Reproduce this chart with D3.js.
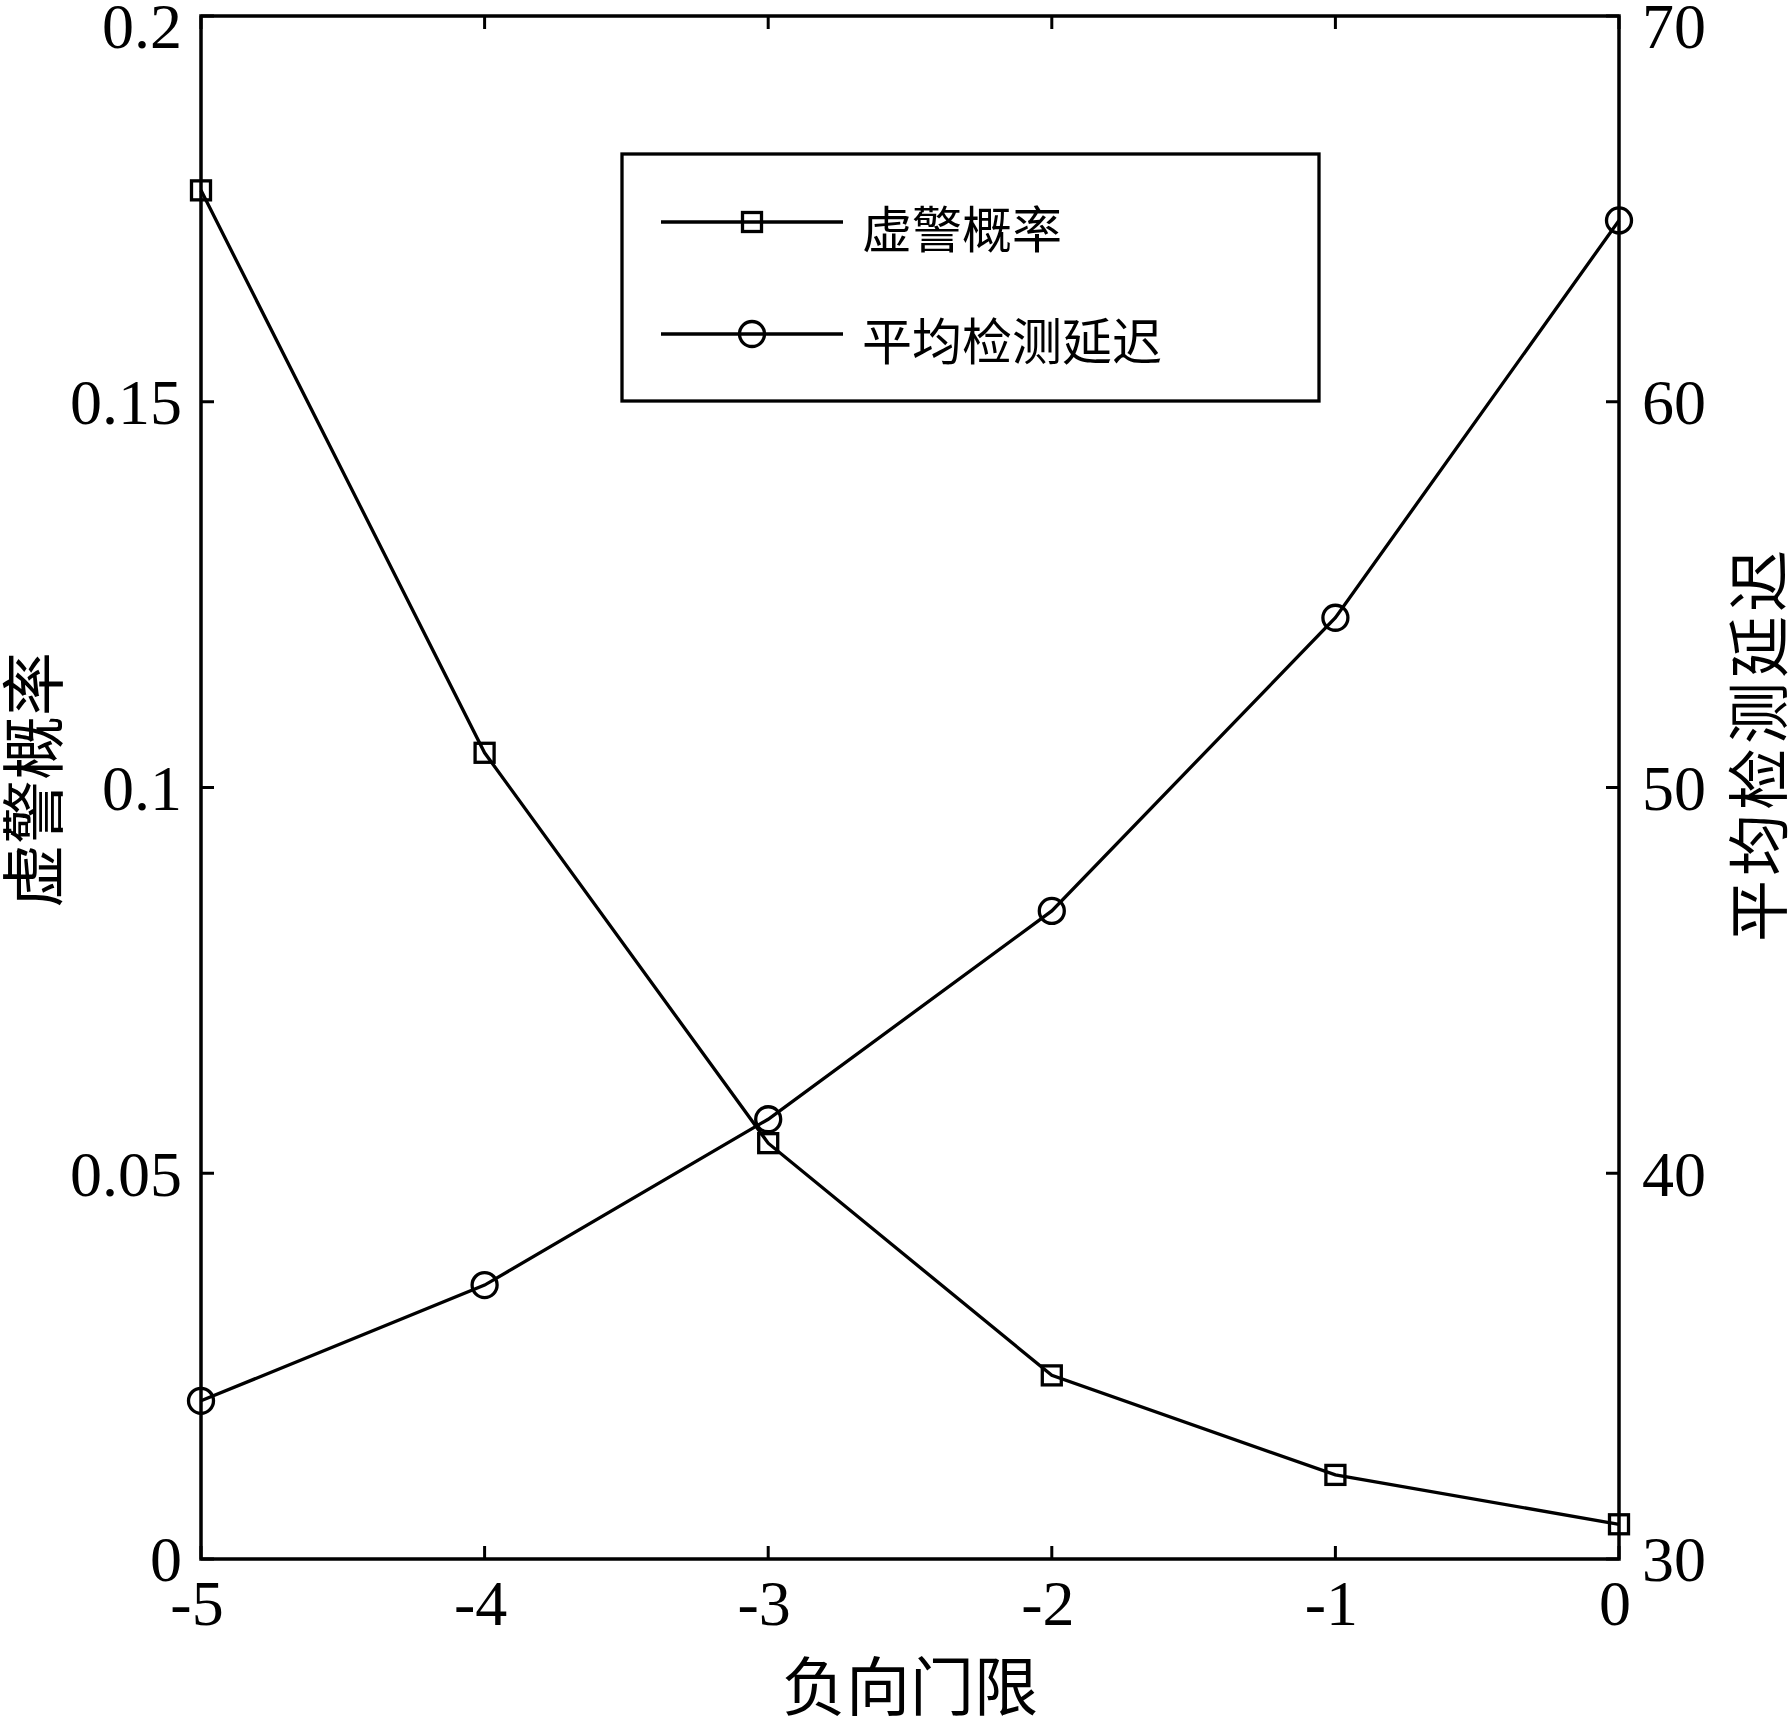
<!DOCTYPE html>
<html>
<head>
<meta charset="utf-8">
<script src="https://cdn.jsdelivr.net/npm/d3@7"></script>
<style>
  body { margin: 0; background: #fff; }
  svg { display: block; }
  .tick-label { font-family: "Liberation Serif", "Times New Roman", serif; font-size: 64px; fill: #000; }
  .cjk { font-family: "Noto Sans CJK SC", sans-serif; fill: #000; }
</style>
</head>
<body>
<svg width="1789" height="1720"></svg>
<script>
// data
const thresholds = [-5, -4, -3, -2, -1, 0];
const falseAlarm = [0.1774, 0.1045, 0.0539, 0.0238, 0.0109, 0.0045];
const avgDelay = [34.1, 37.1, 41.4, 46.8, 54.4, 64.7];

const xTicks = [-5, -4, -3, -2, -1, 0];
const yLeftTicks = [0, 0.05, 0.1, 0.15, 0.2];
const yRightTicks = [30, 40, 50, 60, 70];

const seriesNames = ["虚警概率", "平均检测延迟"];
const xLabel = "负向门限";

document.addEventListener("DOMContentLoaded", function () {
    const svg = d3.select("svg");
    const left = 201, right = 1619, top = 16, bottom = 1559;

    const x = d3.scaleLinear().domain([-5, 0]).range([left, right]);
    const yL = d3.scaleLinear().domain([0, 0.2]).range([bottom, top]);
    const yR = d3.scaleLinear().domain([30, 70]).range([bottom, top]);

    const tickLen = 13;
    const g = svg.append("g");

    // tick marks (inward)
    g.selectAll(".xt-b").data(xTicks).enter().append("line")
        .attr("x1", d => x(d)).attr("x2", d => x(d))
        .attr("y1", bottom).attr("y2", bottom - tickLen)
        .attr("stroke", "#000").attr("stroke-width", 3);
    g.selectAll(".xt-t").data(xTicks).enter().append("line")
        .attr("x1", d => x(d)).attr("x2", d => x(d))
        .attr("y1", top).attr("y2", top + tickLen)
        .attr("stroke", "#000").attr("stroke-width", 3);
    g.selectAll(".yl").data(yLeftTicks).enter().append("line")
        .attr("x1", left).attr("x2", left + tickLen)
        .attr("y1", d => yL(d)).attr("y2", d => yL(d))
        .attr("stroke", "#000").attr("stroke-width", 3);
    g.selectAll(".yr").data(yRightTicks).enter().append("line")
        .attr("x1", right).attr("x2", right - tickLen)
        .attr("y1", d => yR(d)).attr("y2", d => yR(d))
        .attr("stroke", "#000").attr("stroke-width", 3);

    // axes box
    g.append("rect")
        .attr("x", left).attr("y", top)
        .attr("width", right - left).attr("height", bottom - top)
        .attr("fill", "none").attr("stroke", "#000").attr("stroke-width", 3.5);

    // tick labels
    g.selectAll(".xl").data(xTicks).enter().append("text")
        .attr("class", "tick-label")
        .attr("x", d => x(d) - 4).attr("y", bottom + 44)
        .attr("dy", "0.35em")
        .attr("text-anchor", "middle")
        .text(d => String(d));
    g.selectAll(".yll").data(yLeftTicks).enter().append("text")
        .attr("class", "tick-label")
        .attr("x", left - 19)
        .attr("y", d => Math.max(yL(d), 26))
        .attr("dy", "0.35em")
        .attr("text-anchor", "end")
        .text(d => String(d));
    g.selectAll(".yrl").data(yRightTicks).enter().append("text")
        .attr("class", "tick-label")
        .attr("x", right + 23)
        .attr("y", d => Math.max(yR(d), 26))
        .attr("dy", "0.35em")
        .attr("text-anchor", "start")
        .text(d => String(d));

    // axis titles
    svg.append("text").attr("class", "cjk")
        .attr("transform", "translate(57,780) rotate(-90)")
        .attr("text-anchor", "middle")
        .style("font-size", "64px")
        .text(seriesNames[0]);
    svg.append("text").attr("class", "cjk")
        .attr("transform", "translate(1782,744) rotate(-90)")
        .attr("text-anchor", "middle")
        .style("font-size", "62px")
        .style("letter-spacing", "4px")
        .text(seriesNames[1]);
    svg.append("text").attr("class", "cjk")
        .attr("x", (left + right) / 2).attr("y", 1710)
        .attr("text-anchor", "middle")
        .style("font-size", "64px")
        .text(xLabel);

    // series lines
    const lineL = d3.line().x((d, i) => x(thresholds[i])).y(d => yL(d));
    const lineR = d3.line().x((d, i) => x(thresholds[i])).y(d => yR(d));

    g.append("path").attr("d", lineL(falseAlarm))
        .attr("fill", "none").attr("stroke", "#000").attr("stroke-width", 3.3);
    g.append("path").attr("d", lineR(avgDelay))
        .attr("fill", "none").attr("stroke", "#000").attr("stroke-width", 3.3);

    const sq = 19;
    g.selectAll(".sq").data(falseAlarm).enter().append("rect")
        .attr("x", (d, i) => x(thresholds[i]) - sq / 2)
        .attr("y", d => yL(d) - sq / 2)
        .attr("width", sq).attr("height", sq)
        .attr("fill", "none").attr("stroke", "#000").attr("stroke-width", 3.3);
    g.selectAll(".ci").data(avgDelay).enter().append("circle")
        .attr("cx", (d, i) => x(thresholds[i]))
        .attr("cy", d => yR(d))
        .attr("r", 12.5)
        .attr("fill", "none").attr("stroke", "#000").attr("stroke-width", 3.3);

    // legend
    const lg = svg.append("g");
    lg.append("rect")
        .attr("x", 622).attr("y", 154)
        .attr("width", 697).attr("height", 247)
        .attr("fill", "#fff").attr("stroke", "#000").attr("stroke-width", 3.3);
    const rows = [222, 334];
    rows.forEach((ry, i) => {
        lg.append("line")
            .attr("x1", 661).attr("x2", 843)
            .attr("y1", ry).attr("y2", ry)
            .attr("stroke", "#000").attr("stroke-width", 3.3);
        if (i === 0) {
            lg.append("rect")
                .attr("x", 752 - sq / 2).attr("y", ry - sq / 2)
                .attr("width", sq).attr("height", sq)
                .attr("fill", "none").attr("stroke", "#000").attr("stroke-width", 3.3);
        } else {
            lg.append("circle")
                .attr("cx", 752).attr("cy", ry).attr("r", 12.5)
                .attr("fill", "none").attr("stroke", "#000").attr("stroke-width", 3.3);
        }
        lg.append("text").attr("class", "cjk")
            .attr("x", 862).attr("y", ry + 8)
            .attr("dy", "0.36em")
            .style("font-size", "50px")
            .text(seriesNames[i]);
    });
});
</script>
</body>
</html>
